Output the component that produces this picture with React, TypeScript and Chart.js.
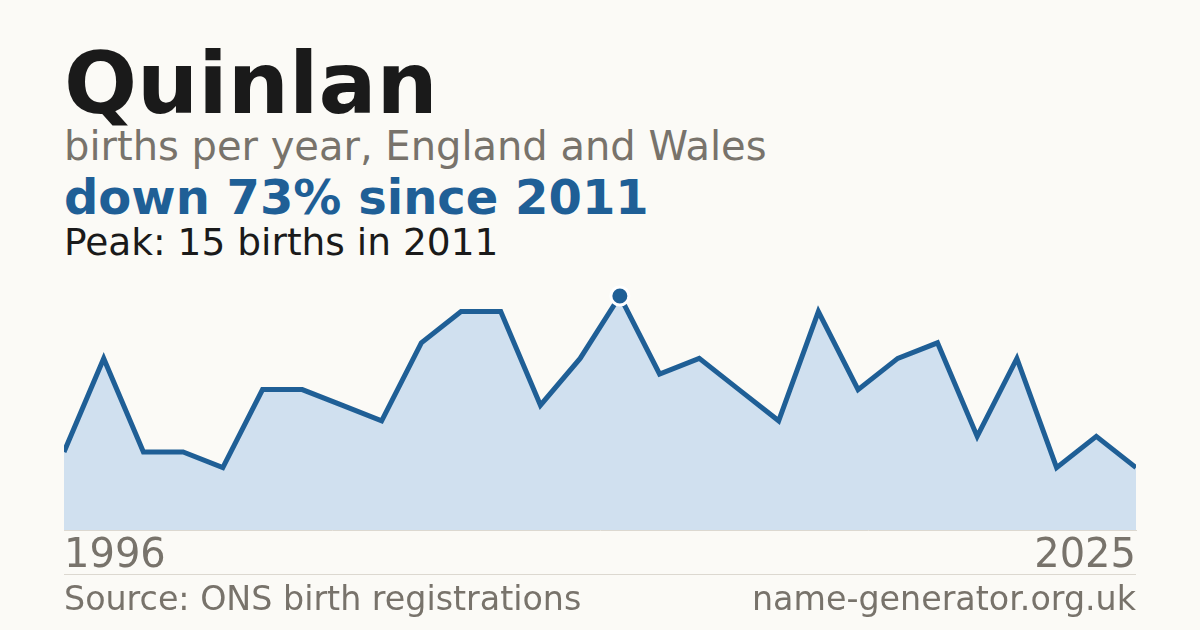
import { useEffect, useRef } from "react";
import { Chart, registerables, ChartConfiguration } from "chart.js";

Chart.register(...registerables);

// years with a published count (two years below the threshold are absent)
const years = [
  "1996", "1997", "1998", "1999", "2000", "2001", "2003", "2004", "2005", "2006",
  "2007", "2008", "2009", "2010", "2011", "2012", "2013", "2014", "2015", "2016",
  "2017", "2018", "2019", "2021", "2022", "2023", "2024", "2025",
];
const births = [5, 11, 5, 5, 4, 9, 9, 8, 7, 12, 14, 14, 8, 11, 15, 10, 11, 9, 7, 14, 9, 11, 12, 6, 11, 4, 6, 4];

const nameTitle = "Quinlan";
const subtitle = "births per year, England and Wales";
const headline = "down 73% since 2011";
const peakNote = "Peak: 15 births in 2011";
const sourceNote = "Source: ONS birth registrations";
const siteNote = "name-generator.org.uk";

const BG = "#fbfaf6";
const BLUE = "#1f5f96";
const GREY = "#78736b";
const INK = "#1a1a1a";
const FONT = "'DejaVu Sans', sans-serif";

function BirthsChart() {
  const canvasRef = useRef<HTMLCanvasElement>(null);
  const chartRef = useRef<Chart | null>(null);

  useEffect(() => {
    if (!canvasRef.current) return;
    if (chartRef.current) chartRef.current.destroy();

    const peakIdx = births.indexOf(Math.max(...births));
    const lastIdx = years.length - 1;

    const config: ChartConfiguration<"line"> = {
      type: "line",
      data: {
        labels: years,
        datasets: [
          {
            data: births,
            borderColor: BLUE,
            borderWidth: 5,
            backgroundColor: "#d0e0ef",
            fill: "origin",
            tension: 0,
            clip: { left: 0, top: false, right: 0, bottom: 0 } as any,
            pointRadius: (c) => (c.dataIndex === peakIdx ? 9 : 0),
            pointHoverRadius: 0,
            pointBackgroundColor: BLUE,
            pointBorderColor: "#ffffff",
            pointBorderWidth: 3,
          },
        ],
      },
      options: {
        animation: false,
        responsive: true,
        maintainAspectRatio: false,
        layout: { autoPadding: false, padding: { top: 16, left: 0, right: 0, bottom: 0 } },
        plugins: { legend: { display: false }, tooltip: { enabled: false } },
        scales: {
          x: {
            offset: false,
            grid: { display: false, drawTicks: false },
            border: { display: true, color: "#dcd8d0", width: 1 },
            ticks: {
              autoSkip: false,
              maxRotation: 0,
              minRotation: 0,
              align: "inner",
              padding: 3,
              color: GREY,
              font: { family: FONT, size: 40 },
              callback: (_v, i) => (i === 0 || i === lastIdx ? years[i] : ""),
            },
          },
          y: { display: false, min: 0, max: 15 },
        },
      },
    };

    chartRef.current = new Chart(canvasRef.current, config);
    return () => {
      chartRef.current?.destroy();
      chartRef.current = null;
    };
  }, []);

  // the x scale keeps a 3px side padding, so the canvas is widened to put the plot at 64..1136
  return (
    <div style={{ position: "absolute", left: 61, top: 280, width: 1078, height: 304 }}>
      <canvas ref={canvasRef} />
    </div>
  );
}

const text = (top: number, size: number, color: string, bold = false): React.CSSProperties => ({
  position: "absolute",
  left: 64,
  top,
  fontSize: size,
  lineHeight: 1,
  color,
  fontWeight: bold ? 700 : 400,
  whiteSpace: "nowrap",
});

export default function App() {
  return (
    <div
      style={{
        position: "fixed",
        left: 0,
        top: 0,
        width: 1200,
        height: 630,
        background: BG,
        fontFamily: FONT,
        overflow: "hidden",
      }}
    >
      <div style={text(40, 86, INK, true)}>{nameTitle}</div>
      <div style={text(126.2, 40, GREY)}>{subtitle}</div>
      <div style={text(173.4, 48, BLUE, true)}>{headline}</div>
      <div style={text(224, 37.5, INK)}>{peakNote}</div>
      <BirthsChart />
      <div style={{ position: "absolute", left: 64, top: 574, width: 1072, height: 1, background: "#dcd8d0" }} />
      <div style={text(582, 33.3, GREY)}>{sourceNote}</div>
      <div style={{ ...text(582, 33.3, GREY), left: "auto", right: 64 }}>{siteNote}</div>
    </div>
  );
}
